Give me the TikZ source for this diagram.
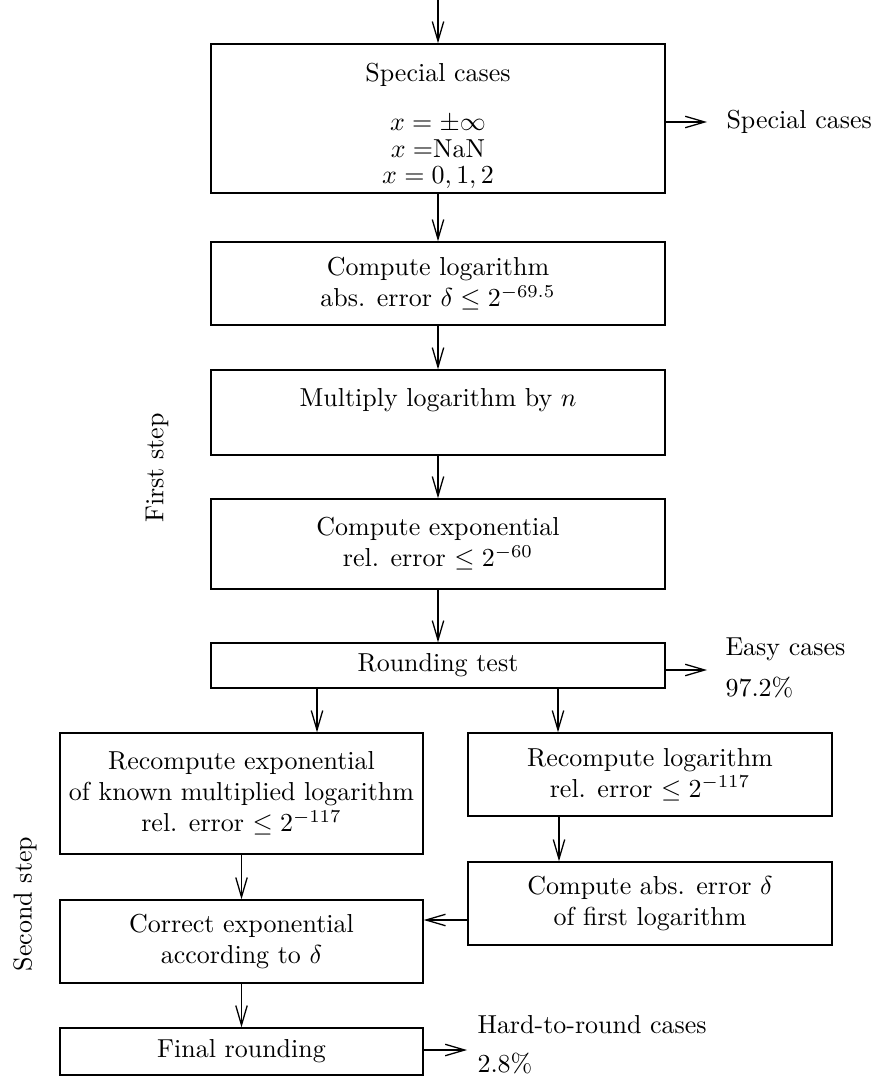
\documentclass[tikz,border=0pt]{standalone}
\usetikzlibrary{arrows.meta}
\begin{document}
\begin{tikzpicture}[x=0.385pt,y=-0.385pt,
  box/.style={draw,line width=0.5pt,inner sep=0pt,align=center},
  topbox/.style={box,minimum width=174.8pt},
  leftbox/.style={box,minimum width=139.8pt},
  rightbox/.style={box,minimum width=140.1pt},
  txt/.style={inner sep=0pt,align=center},
  lbl/.style={inner sep=0pt,align=left,anchor=west},
  arr/.style={line width=0.5pt,-{Straight Barb[length=7.5pt,width=4.4pt,line width=0.5pt]}}]
\useasboundingbox (0,0) rectangle (875,1081);
% boxes
\node[topbox,minimum height=57.4pt] (box1) at (438,118.5) {};
\node[txt] (t1a) at (438,75) {Special cases};
\node[txt] (t1b) at (438,152) {$x=\pm\infty$\\[-1.8pt]$x=$NaN\\[-1.8pt]$x=0,1,2$};
\node[topbox,minimum height=32pt] (box2) at (438,283.5) {Compute logarithm\\abs. error $\delta\leq 2^{-69.5}$};
\node[topbox,minimum height=32.7pt] (box3) at (438,412.5) {};
\node[txt] (t3) at (438,400) {Multiply logarithm by $n$};
\node[topbox,minimum height=34.7pt] (box4) at (438,544) {Compute exponential\\rel. error $\leq 2^{-60}$};
\node[topbox,minimum height=17.3pt] (box5) at (438,665.5) {Rounding test};
\node[leftbox,minimum height=46.6pt] (box6) at (241.5,793.5) {Recompute exponential\\of known multiplied logarithm\\rel. error $\leq 2^{-117}$};
\node[rightbox,minimum height=32pt] (box7) at (650,774.5) {Recompute logarithm\\rel. error $\leq 2^{-117}$};
\node[rightbox,minimum height=32pt] (box8) at (650,903.5) {Compute abs. error $\delta$\\of first logarithm};
\node[leftbox,minimum height=32pt] (box9) at (241.5,941.5) {Correct exponential\\according to $\delta$};
\node[leftbox,minimum height=18.1pt] (box10) at (241.5,1051.5) {Final rounding};
% side labels
\node[lbl] (sc) at (726,122) {Special cases};
\node[lbl] (ec) at (725,668) {Easy cases\\[4pt]97.2\%};
\node[lbl] (hc) at (477,1045) {Hard-to-round cases\\[3pt]2.8\%};
\node[txt,rotate=90] (fs) at (157,468) {First step};
\node[txt,rotate=90] (ss) at (25,904) {Second step};
% helper coordinates
\coordinate (top) at (438,0);
\coordinate (cA) at (317,0);
\coordinate (cB) at (558,0);
\coordinate (cC) at (559,0);
\coordinate (mD) at (0,920);
\coordinate (sT) at (707,122);
\coordinate (eT) at (707,670);
\coordinate (hT) at (467,1050);
% connectors
\draw[arr] (top) -- (box1.north);
\draw[arr] (box1.south) -- (box2.north);
\draw[arr] (box2.south) -- (box3.north);
\draw[arr] (box3.south) -- (box4.north);
\draw[arr] (box4.south) -- (box5.north);
\draw[arr] (box5.south -| cA) -- (box6.north -| cA);
\draw[arr] (box5.south -| cB) -- (box7.north -| cB);
\draw[arr] (box7.south -| cC) -- (box8.north -| cC);
\draw[arr] (box6.south) -- (box9.north);
\draw[arr] (box8.west |- mD) -- (box9.east |- mD);
\draw[arr] (box9.south) -- (box10.north);
\draw[arr] (box1.east |- sT) -- (sT);
\draw[arr] (box5.east |- eT) -- (eT);
\draw[arr] (box10.east |- hT) -- (hT);
\end{tikzpicture}
\end{document}
